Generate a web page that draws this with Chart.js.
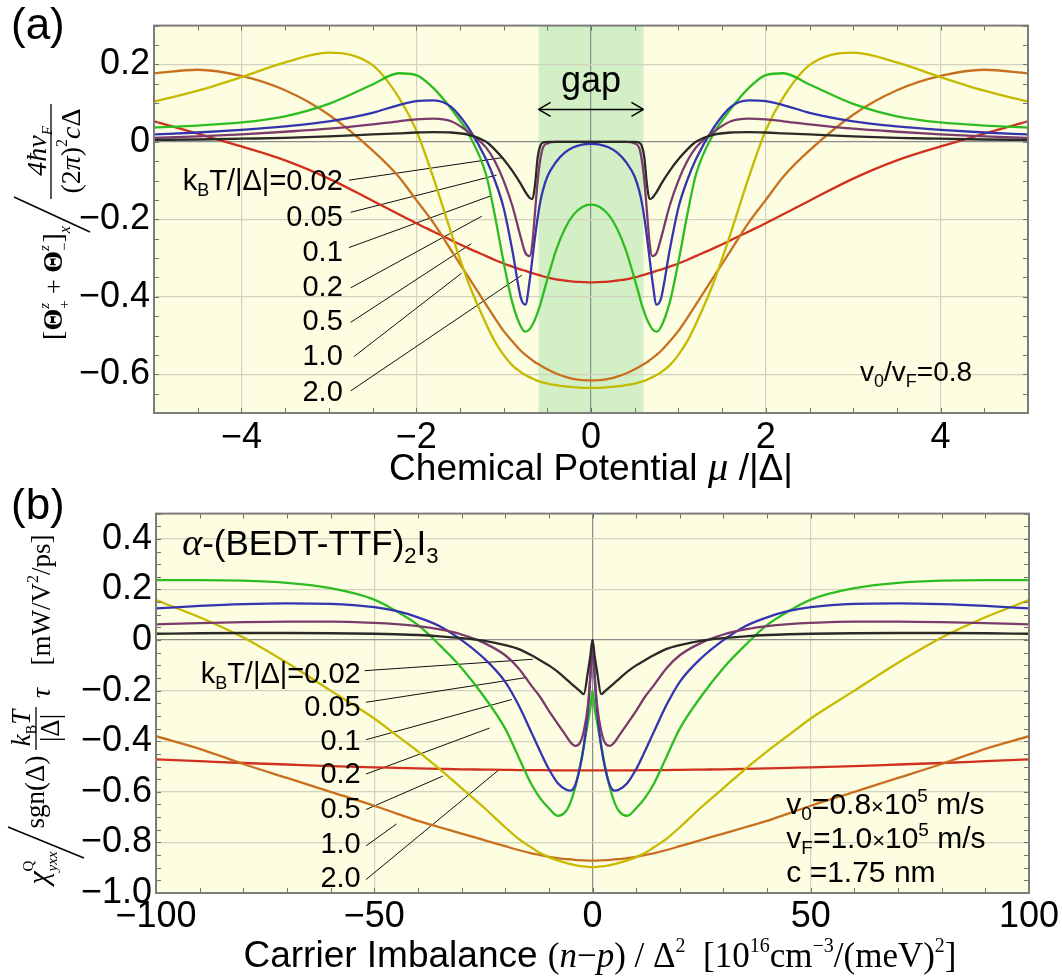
<!DOCTYPE html>
<html><head><meta charset="utf-8">
<script src="https://cdn.jsdelivr.net/npm/chart.js@4.4.0/dist/chart.umd.min.js"></script>
<style>
html,body{margin:0;padding:0;background:#fff;width:1062px;height:976px;overflow:hidden}
canvas{position:absolute;left:0}
#ca{top:0}#cb{top:488px}
</style></head><body>
<canvas id="ca" width="1062" height="488"></canvas>
<canvas id="cb" width="1062" height="488"></canvas>
<script>
// ---------- data : panel (a) ----------
const muA = [-5,-4.5,-4,-3.5,-3,-2.5,-2.2,-2,-1.8,-1.6,-1.4,-1.2,-1.1,-1,-0.9,-0.8,-0.75,-0.7,-0.67,-0.64,-0.61,-0.58,-0.55,-0.5,-0.4,-0.3,-0.2,-0.1,0,
 0.1,0.2,0.3,0.4,0.5,0.55,0.58,0.61,0.64,0.67,0.7,0.75,0.8,0.9,1,1.1,1.2,1.4,1.6,1.8,2,2.2,2.5,3,3.5,4,4.5,5];
const a002 = [0.005,0.006,0.008,0.01,0.014,0.019,0.022,0.024,0.025,0.024,0.018,0.0,-0.02,-0.045,-0.075,-0.11,-0.13,-0.145,-0.148,-0.11,-0.04,-0.01,-0.002,0,0,0,0,0,0,
 0,0,0,0,0,-0.002,-0.01,-0.04,-0.11,-0.148,-0.145,-0.13,-0.11,-0.075,-0.045,-0.02,0.0,0.018,0.024,0.025,0.024,0.022,0.019,0.014,0.01,0.008,0.006,0.005];
const a005 = [0.01,0.014,0.019,0.026,0.034,0.045,0.053,0.058,0.06,0.053,0.025,-0.015,-0.05,-0.1,-0.165,-0.25,-0.287,-0.295,-0.26,-0.18,-0.1,-0.045,-0.015,-0.004,0,0,0,0,0,
 0,0,0,0,-0.004,-0.015,-0.045,-0.1,-0.18,-0.26,-0.295,-0.287,-0.25,-0.165,-0.1,-0.05,-0.015,0.025,0.053,0.06,0.058,0.053,0.045,0.034,0.026,0.019,0.014,0.01];
const a01 = [0.019,0.024,0.031,0.04,0.053,0.075,0.095,0.105,0.107,0.09,0.035,-0.045,-0.1,-0.17,-0.28,-0.405,-0.42,-0.355,-0.3,-0.245,-0.195,-0.155,-0.125,-0.09,-0.052,-0.028,-0.014,-0.007,-0.005,
 -0.007,-0.014,-0.028,-0.052,-0.09,-0.125,-0.155,-0.195,-0.245,-0.3,-0.355,-0.42,-0.405,-0.28,-0.17,-0.1,-0.045,0.035,0.09,0.107,0.105,0.095,0.075,0.053,0.04,0.031,0.024,0.019];
const a02 = [0.037,0.042,0.05,0.066,0.098,0.148,0.177,0.172,0.138,0.085,0.02,-0.085,-0.19,-0.31,-0.415,-0.478,-0.49,-0.483,-0.472,-0.458,-0.44,-0.42,-0.395,-0.355,-0.28,-0.225,-0.188,-0.168,-0.162,
 -0.168,-0.188,-0.225,-0.28,-0.355,-0.395,-0.42,-0.44,-0.458,-0.472,-0.483,-0.49,-0.478,-0.415,-0.31,-0.19,-0.085,0.02,0.085,0.138,0.172,0.177,0.148,0.098,0.066,0.05,0.042,0.037];
const a05 = [0.104,0.132,0.167,0.205,0.23,0.198,0.115,0.03,-0.095,-0.235,-0.365,-0.47,-0.515,-0.55,-0.577,-0.595,-0.602,-0.608,-0.611,-0.614,-0.617,-0.619,-0.621,-0.624,-0.628,-0.631,-0.633,-0.635,-0.635,
 -0.635,-0.633,-0.631,-0.628,-0.624,-0.621,-0.619,-0.617,-0.614,-0.611,-0.608,-0.602,-0.595,-0.577,-0.55,-0.515,-0.47,-0.365,-0.235,-0.095,0.03,0.115,0.198,0.23,0.205,0.167,0.132,0.104];
const a10 = [0.177,0.186,0.17,0.133,0.07,-0.022,-0.09,-0.15,-0.21,-0.28,-0.35,-0.42,-0.455,-0.488,-0.515,-0.54,-0.55,-0.559,-0.564,-0.569,-0.573,-0.577,-0.581,-0.587,-0.598,-0.606,-0.612,-0.615,-0.616,
 -0.615,-0.612,-0.606,-0.598,-0.587,-0.581,-0.577,-0.573,-0.569,-0.564,-0.559,-0.55,-0.54,-0.515,-0.488,-0.455,-0.42,-0.35,-0.28,-0.21,-0.15,-0.09,-0.022,0.07,0.133,0.17,0.186,0.177];
const a20 = [0.053,0.021,-0.012,-0.048,-0.095,-0.152,-0.187,-0.21,-0.232,-0.254,-0.275,-0.295,-0.305,-0.314,-0.322,-0.33,-0.333,-0.337,-0.339,-0.341,-0.343,-0.345,-0.347,-0.35,-0.355,-0.358,-0.361,-0.362,-0.363,
 -0.362,-0.361,-0.358,-0.355,-0.35,-0.347,-0.345,-0.343,-0.341,-0.339,-0.337,-0.333,-0.33,-0.322,-0.314,-0.305,-0.295,-0.275,-0.254,-0.232,-0.21,-0.187,-0.152,-0.095,-0.048,-0.012,0.021,0.053];

// ---------- data : panel (b) ----------
const nB = [-100,-90,-80,-70,-60,-50,-45,-40,-35,-30,-25,-20,-17,-14,-12,-10,-8,-6,-5,-4,-3,-2,-1,-0.5,0,
 0.5,1,2,3,4,5,6,8,10,12,14,17,20,25,30,35,40,45,50,60,70,80,90,100];
const b002 = [0.025,0.027,0.028,0.028,0.027,0.025,0.023,0.02,0.015,0.008,-0.002,-0.02,-0.035,-0.06,-0.08,-0.1,-0.125,-0.155,-0.17,-0.185,-0.2,-0.214,-0.12,-0.065,0,
 -0.065,-0.12,-0.214,-0.2,-0.185,-0.17,-0.155,-0.125,-0.1,-0.08,-0.06,-0.035,-0.02,-0.002,0.008,0.015,0.02,0.023,0.025,0.027,0.028,0.028,0.027,0.025];
const b005 = [0.062,0.067,0.071,0.073,0.073,0.068,0.063,0.055,0.042,0.022,-0.01,-0.06,-0.11,-0.18,-0.225,-0.28,-0.33,-0.38,-0.405,-0.418,-0.41,-0.36,-0.25,-0.14,0,
 -0.14,-0.25,-0.36,-0.41,-0.418,-0.405,-0.38,-0.33,-0.28,-0.225,-0.18,-0.11,-0.06,-0.01,0.022,0.042,0.055,0.063,0.068,0.073,0.073,0.071,0.067,0.062];
const b01 = [0.125,0.135,0.142,0.145,0.143,0.13,0.115,0.09,0.055,0.0,-0.07,-0.165,-0.255,-0.365,-0.44,-0.51,-0.565,-0.592,-0.595,-0.575,-0.515,-0.42,-0.27,-0.15,0,
 -0.15,-0.27,-0.42,-0.515,-0.575,-0.595,-0.592,-0.565,-0.51,-0.44,-0.365,-0.255,-0.165,-0.07,0.0,0.055,0.09,0.115,0.13,0.143,0.145,0.142,0.135,0.125];
const b02 = [0.237,0.237,0.235,0.226,0.205,0.16,0.115,0.06,-0.02,-0.11,-0.22,-0.35,-0.46,-0.57,-0.625,-0.665,-0.695,-0.675,-0.64,-0.585,-0.51,-0.42,-0.32,-0.27,-0.2,
 -0.27,-0.32,-0.42,-0.51,-0.585,-0.64,-0.675,-0.695,-0.665,-0.625,-0.57,-0.46,-0.35,-0.22,-0.11,-0.02,0.06,0.115,0.16,0.205,0.226,0.235,0.237,0.237];
const b05 = [0.158,0.09,0.01,-0.09,-0.2,-0.31,-0.375,-0.44,-0.51,-0.585,-0.66,-0.74,-0.785,-0.82,-0.842,-0.858,-0.871,-0.881,-0.886,-0.89,-0.893,-0.895,-0.897,-0.898,-0.898,
 -0.898,-0.897,-0.895,-0.893,-0.89,-0.886,-0.881,-0.871,-0.858,-0.842,-0.82,-0.785,-0.74,-0.66,-0.585,-0.51,-0.44,-0.375,-0.31,-0.2,-0.09,0.01,0.09,0.158];
const b10 = [-0.38,-0.43,-0.49,-0.545,-0.6,-0.655,-0.685,-0.715,-0.74,-0.765,-0.79,-0.815,-0.83,-0.843,-0.85,-0.857,-0.862,-0.866,-0.867,-0.869,-0.87,-0.871,-0.872,-0.872,-0.872,
 -0.872,-0.872,-0.871,-0.87,-0.869,-0.867,-0.866,-0.862,-0.857,-0.85,-0.843,-0.83,-0.815,-0.79,-0.765,-0.74,-0.715,-0.685,-0.655,-0.6,-0.545,-0.49,-0.43,-0.38];
const b20 = [-0.472,-0.479,-0.486,-0.492,-0.498,-0.503,-0.505,-0.507,-0.509,-0.511,-0.512,-0.513,-0.514,-0.514,-0.514,-0.515,-0.515,-0.515,-0.515,-0.515,-0.515,-0.515,-0.515,-0.515,-0.515,
 -0.515,-0.515,-0.515,-0.515,-0.515,-0.515,-0.515,-0.515,-0.515,-0.514,-0.514,-0.514,-0.513,-0.512,-0.511,-0.509,-0.507,-0.505,-0.503,-0.498,-0.492,-0.486,-0.479,-0.472];

// ---------- ticks, labels, annotations ----------
const xTicksA = [-4,-2,0,2,4];
const yTicksA = [0.2,0,-0.2,-0.4,-0.6];
const xTicksB = [-100,-50,0,50,100];
const yTicksB = [0.4,0.2,0,-0.2,-0.4,-0.6,-0.8,-1.0];
const tempLabels = ['0.02','0.05','0.1','0.2','0.5','1.0','2.0'];
const gapRange = [-0.6, 0.6];
const labXA = -2.84, labYA = [-0.099,-0.192,-0.281,-0.372,-0.461,-0.549,-0.643];
const leadA = [[-2.77,-0.099,-1.02,-0.041],[-2.75,-0.182,-1.08,-0.086],[-2.77,-0.273,-1.14,-0.139],
 [-2.75,-0.377,-1.25,-0.192],[-2.75,-0.466,-1.37,-0.263],[-2.71,-0.554,-1.48,-0.339],[-2.75,-0.643,-0.79,-0.344]];
const labXB = -53.1, labYB = [-0.129,-0.261,-0.394,-0.527,-0.663,-0.803,-0.936];
const leadB = [[-52.2,-0.121,-13.7,-0.076],[-51.9,-0.246,-15.1,-0.148],[-51.9,-0.394,-18.5,-0.235],
 [-51.9,-0.530,-23.6,-0.348],[-51.9,-0.670,-34.3,-0.538],[-51.9,-0.814,-44.9,-0.727],[-51.9,-0.947,-21.3,-0.511]];

const colors = ['#2a2a26','#7a3a6c','#3434b0','#2dbd22','#c6ba00','#c8701f','#d0301c'];
const SF = '"Liberation Sans", Arial, sans-serif';
const RF = '"Liberation Serif", "Times New Roman", serif';
const S = (sz, st) => (st ? st + ' ' : '') + sz + 'px ' + SF;
const R = (sz, st) => (st ? st + ' ' : '') + sz + 'px ' + RF;

function drawRuns(ctx, runs, x, y, align) {
  let w = 0;
  for (const r of runs) { ctx.font = r.f; if (!r.noAdv) w += ctx.measureText(r.t).width; }
  let cx = align === 'right' ? x - w : align === 'center' ? x - w / 2 : x;
  ctx.textBaseline = 'alphabetic'; ctx.textAlign = 'left';
  for (const r of runs) {
    ctx.font = r.f; ctx.fillText(r.t, cx, y + (r.dy || 0));
    if (!r.noAdv) cx += ctx.measureText(r.t).width;
  }
}
function rotRuns(ctx, runs, bx, cy) {
  ctx.save(); ctx.translate(bx, cy); ctx.rotate(-Math.PI / 2);
  drawRuns(ctx, runs, 0, 0, 'center'); ctx.restore();
}
function line(ctx, x1, y1, x2, y2, w) {
  ctx.lineWidth = w || 1; ctx.beginPath(); ctx.moveTo(x1, y1); ctx.lineTo(x2, y2); ctx.stroke();
}
function frame(chart, xStep, yStep) {
  const { ctx, chartArea: ca, scales: { x, y } } = chart;
  ctx.save(); ctx.strokeStyle = '#707070';
  const nx = Math.round((x.max - x.min) / xStep);
  for (let i = 0; i <= nx; i++) {
    const p = Math.round(x.getPixelForValue(x.min + i * xStep)) + 0.5;
    line(ctx, p, ca.bottom, p, ca.bottom - 5, 1); line(ctx, p, ca.top, p, ca.top + 5, 1);
  }
  const ny = Math.round((y.max - y.min) / yStep);
  for (let i = 0; i <= ny; i++) {
    const p = Math.round(y.getPixelForValue(y.min + i * yStep)) + 0.5;
    line(ctx, ca.left, p, ca.left + 5, p, 1); line(ctx, ca.right, p, ca.right - 5, p, 1);
  }
  ctx.lineWidth = 2; ctx.strokeStyle = '#7c7c7c';
  ctx.strokeRect(ca.left, ca.top, ca.right - ca.left, ca.bottom - ca.top);
  ctx.restore();
}
function bg(chart, band) {
  const { ctx, chartArea: ca, scales: { x } } = chart;
  ctx.save(); ctx.fillStyle = '#fdfde2';
  ctx.fillRect(ca.left, ca.top, ca.right - ca.left, ca.bottom - ca.top);
  if (band) {
    const g0 = x.getPixelForValue(band[0]), g1 = x.getPixelForValue(band[1]);
    ctx.fillStyle = '#d3efc6'; ctx.fillRect(g0, ca.top, g1 - g0, ca.bottom - ca.top);
  }
  ctx.restore();
}
function tempLabelsDraw(chart, lx, lys) {
  const { ctx, scales: { x, y } } = chart;
  ctx.save(); ctx.fillStyle = '#000';
  const px = x.getPixelForValue(lx);
  lys.forEach((v, i) => {
    const py = y.getPixelForValue(v) + 10;
    const runs = i === 0 ? [{ t: 'k', f: S(29) }, { t: 'B', f: S(18), dy: 6 }, { t: 'T/|Δ|=' + tempLabels[0], f: S(29) }]
                         : [{ t: tempLabels[i], f: S(29) }];
    drawRuns(ctx, runs, px, py, 'right');
  });
  ctx.restore();
}

function mkData(xs, series, leads) {
  const ds = series.map((ys, i) => ({
    label: 'kBT/|Δ|=' + tempLabels[i],
    data: xs.map((v, j) => ({ x: v, y: ys[j] })),
    borderColor: colors[i], borderWidth: 2.3, pointRadius: 0,
    cubicInterpolationMode: 'monotone', fill: false
  }));
  leads.forEach(l => ds.push({
    label: 'leader', data: [{ x: l[0], y: l[1] }, { x: l[2], y: l[3] }],
    borderColor: '#111', borderWidth: 1, pointRadius: 0, tension: 0
  }));
  return ds;
}
const fmtA = v => v === 0 ? '0' : (v < 0 ? '\u2212' : '') + String(Math.round(Math.abs(v) * 10) / 10);
const fmtB = v => Math.abs(v) < 1e-9 ? '0' : (v < 0 ? '\u2212' : '') + Math.abs(v).toFixed(1);
const fmtX = v => v === 0 ? '0' : (v < 0 ? '\u2212' : '') + Math.abs(v);
const gridCol = c => (c.tick && Math.abs(c.tick.value) < 1e-9) ? '#8c8c8c' : '#d2d2c0';

function mkScales(o) {
  return {
    x: {
      type: 'linear', min: o.xmin, max: o.xmax,
      afterBuildTicks: s => { s.ticks = o.xt.map(v => ({ value: v })); },
      afterFit: s => { s.height = o.xh; },
      ticks: { font: { family: SF, size: 36 }, color: '#000', padding: o.xpad, maxRotation: 0, autoSkip: false, callback: fmtX },
      grid: { color: gridCol, lineWidth: 1.2, drawTicks: false },
      border: { display: false }
    },
    y: {
      type: 'linear', min: o.ymin, max: o.ymax,
      afterBuildTicks: s => { s.ticks = o.yt.map(v => ({ value: v })); },
      afterFit: s => { s.width = o.yw; },
      ticks: { font: { family: SF, size: 36 }, color: '#000', padding: 4, autoSkip: false, callback: o.fmt },
      grid: { color: gridCol, lineWidth: 1.2, drawTicks: false },
      border: { display: false }
    }
  };
}

// ---------- panel (a) ----------
const plugA = {
  id: 'pa',
  beforeDraw(chart) { bg(chart, gapRange); },
  afterDatasetsDraw(chart) {
    frame(chart, 0.5, 0.05);
    const { ctx, scales: { x, y } } = chart;
    tempLabelsDraw(chart, labXA, labYA);
    ctx.save(); ctx.fillStyle = '#000'; ctx.strokeStyle = '#000';
    const ay = y.getPixelForValue(0.0835), g0 = x.getPixelForValue(gapRange[0]), g1 = x.getPixelForValue(gapRange[1]);
    line(ctx, g0, ay, g1, ay, 1.5);
    line(ctx, g0, ay, g0 + 12, ay - 7, 1.5); line(ctx, g0, ay, g0 + 12, ay + 7, 1.5);
    line(ctx, g1, ay, g1 - 12, ay - 7, 1.5); line(ctx, g1, ay, g1 - 12, ay + 7, 1.5);
    drawRuns(ctx, [{ t: 'gap', f: S(36) }], x.getPixelForValue(0), y.getPixelForValue(0.129), 'center');
    drawRuns(ctx, [{ t: 'v', f: S(28) }, { t: '0', f: S(18), dy: 6 }, { t: '/v', f: S(28) }, { t: 'F', f: S(18), dy: 6 }, { t: '=0.8', f: S(28) }],
      x.getPixelForValue(4.36), y.getPixelForValue(-0.618), 'right');
    drawRuns(ctx, [{ t: '(a)', f: S(44) }], 11, 39, 'left');
    drawRuns(ctx, [{ t: 'Chemical Potential ', f: S(37) }, { t: 'μ', f: R(41, 'italic') }, { t: ' /|Δ|', f: S(37) }], 591, 480, 'center');
    rotRuns(ctx, [{ t: '[', f: R(28) }, { t: 'Θ', f: R(28, 'bold') }, { t: 'z', f: R(15, 'italic'), dy: -13, noAdv: true }, { t: '+', f: R(15), dy: 7 },
      { t: ' + ', f: R(26) }, { t: 'Θ', f: R(28, 'bold') }, { t: 'z', f: R(15, 'italic'), dy: -13, noAdv: true }, { t: '−', f: R(15), dy: 7 },
      { t: ']', f: R(28) }, { t: 'x', f: R(16, 'italic'), dy: 8 }], 62, 283);
    line(ctx, 90, 232, 14, 197, 1.4);
    rotRuns(ctx, [{ t: '4ħv', f: R(28, 'italic') }, { t: 'F', f: R(15, 'italic'), dy: 6 }], 46, 151);
    line(ctx, 51, 104, 51, 199, 1.3);
    rotRuns(ctx, [{ t: '(2', f: R(28) }, { t: 'π', f: R(28, 'italic') }, { t: ')', f: R(28) }, { t: '2', f: R(16), dy: -13 },
      { t: 'c', f: R(28, 'italic') }, { t: 'Δ', f: R(28) }], 80, 151);
    ctx.restore();
  }
};
new Chart(document.getElementById('ca'), {
  type: 'line',
  data: { datasets: mkData(muA, [a002, a005, a01, a02, a05, a10, a20], leadA) },
  options: {
    responsive: false, animation: false, events: [],
    layout: { padding: { left: 0, right: 34, top: 15, bottom: 0 } },
    plugins: { legend: { display: false }, tooltip: { enabled: false } },
    scales: mkScales({ xmin: -5, xmax: 5, ymin: -0.7, ymax: 0.3, xt: xTicksA, yt: yTicksA, xh: 75, yw: 154, xpad: 3, fmt: fmtA })
  },
  plugins: [plugA]
});

// ---------- panel (b) ----------
const OFF = 488;
const plugB = {
  id: 'pb',
  beforeDraw(chart) { bg(chart, null); },
  afterDatasetsDraw(chart) {
    frame(chart, 10, 0.05);
    const { ctx, scales: { x, y } } = chart;
    tempLabelsDraw(chart, labXB, labYB);
    ctx.save(); ctx.fillStyle = '#000'; ctx.strokeStyle = '#000';
    drawRuns(ctx, [{ t: 'α', f: R(38, 'italic') }, { t: '-(BEDT-TTF)', f: S(35) }, { t: '2', f: S(22), dy: 8 }, { t: 'I', f: S(35) }, { t: '3', f: S(22), dy: 8 }],
      x.getPixelForValue(-94), y.getPixelForValue(0.335), 'left');
    const vx = x.getPixelForValue(44.4);
    drawRuns(ctx, [{ t: 'v', f: S(30) }, { t: '0', f: S(19), dy: 6 }, { t: '=0.8', f: S(30) }, { t: '×', f: S(22) }, { t: '10', f: S(30) }, { t: '5', f: S(19), dy: -12 }, { t: ' m/s', f: S(30) }],
      vx, y.getPixelForValue(-0.686), 'left');
    drawRuns(ctx, [{ t: 'v', f: S(30) }, { t: 'F', f: S(19), dy: 6 }, { t: '=1.0', f: S(30) }, { t: '×', f: S(22) }, { t: '10', f: S(30) }, { t: '5', f: S(19), dy: -12 }, { t: ' m/s', f: S(30) }],
      vx, y.getPixelForValue(-0.822), 'left');
    drawRuns(ctx, [{ t: 'c =1.75 nm', f: S(30) }], vx, y.getPixelForValue(-0.955), 'left');
    drawRuns(ctx, [{ t: '(b)', f: S(44) }], 11, 519 - OFF, 'left');
    drawRuns(ctx, [{ t: 'Carrier Imbalance ', f: S(37) }, { t: '(', f: R(35) }, { t: 'n', f: R(35, 'italic') }, { t: '−', f: R(35) }, { t: 'p', f: R(35, 'italic') },
      { t: ') / Δ', f: R(35) }, { t: '2', f: R(20), dy: -15 }, { t: '  [10', f: R(35) }, { t: '16', f: R(20), dy: -15 }, { t: 'cm', f: R(35) },
      { t: '−3', f: R(20), dy: -15 }, { t: '/(meV)', f: R(35) }, { t: '2', f: R(20), dy: -15 }, { t: ']', f: R(35) }], 600, 967 - OFF, 'center');
    rotRuns(ctx, [{ t: '[mW/V', f: R(27) }, { t: '2', f: R(16), dy: -12 }, { t: '/ps]', f: R(27) }], 50, 600 - OFF);
    rotRuns(ctx, [{ t: 'τ', f: R(28, 'italic') }], 50, 693 - OFF);
    rotRuns(ctx, [{ t: 'k', f: R(27, 'italic') }, { t: 'B', f: R(14), dy: 6 }, { t: 'T', f: R(27, 'italic') }], 30, 728 - OFF);
    line(ctx, 36, 707 - OFF, 36, 750 - OFF, 1.3);
    rotRuns(ctx, [{ t: '|Δ|', f: R(27) }], 59, 728 - OFF);
    rotRuns(ctx, [{ t: 'sgn(Δ)', f: R(27) }], 44, 792 - OFF);
    line(ctx, 84, 858 - OFF, 8, 827 - OFF, 1.4);
    rotRuns(ctx, [{ t: 'χ', f: R(30, 'italic') }, { t: 'Q', f: R(15), dy: -15, noAdv: true }, { t: 'yxx', f: R(15, 'italic'), dy: 9 }], 48, 868 - OFF);
    ctx.restore();
  }
};
new Chart(document.getElementById('cb'), {
  type: 'line',
  data: { datasets: mkData(nB, [b002, b005, b01, b02, b05, b10, b20], leadB) },
  options: {
    responsive: false, animation: false, events: [],
    layout: { padding: { left: 0, right: 33, top: 9, bottom: 0 } },
    plugins: { legend: { display: false }, tooltip: { enabled: false } },
    scales: mkScales({ xmin: -100, xmax: 100, ymin: -1.0, ymax: 0.5, xt: xTicksB, yt: yTicksB, xh: 83, yw: 156, xpad: 2, fmt: fmtB })
  },
  plugins: [plugB]
});
</script>
</body></html>
